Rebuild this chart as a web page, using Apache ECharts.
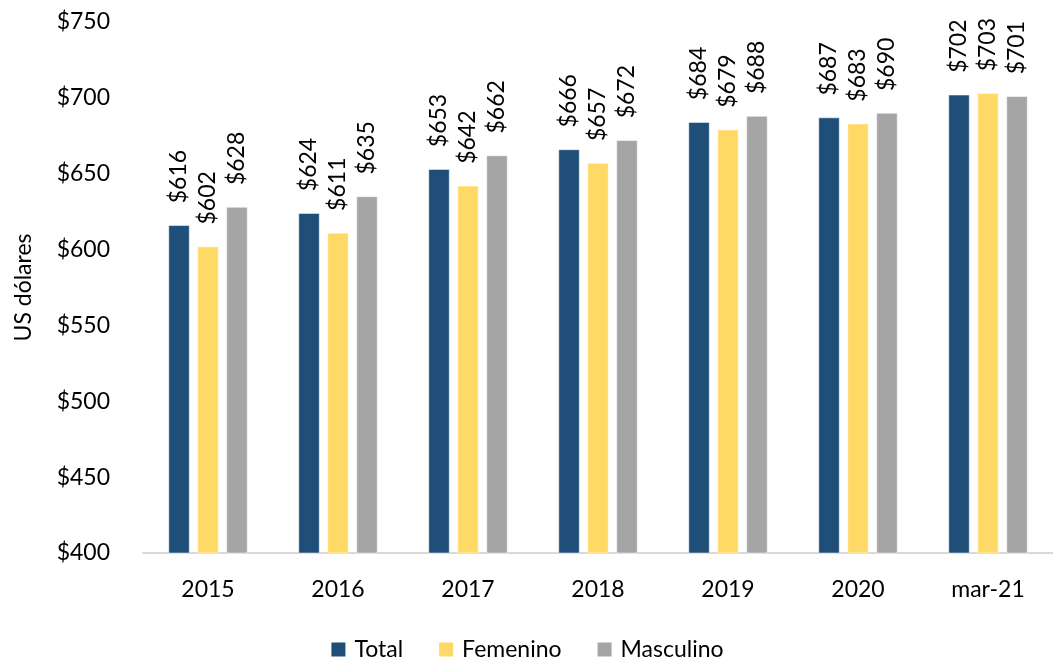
<!DOCTYPE html>
<html>
<head>
<meta charset="utf-8">
<script src="https://cdn.jsdelivr.net/npm/echarts@6/dist/echarts.min.js"></script>
<style>
  html, body { margin: 0; padding: 0; background: #fff; }
  #chart { width: 1053px; height: 659px; }
</style>
</head>
<body>
<div id="chart"></div>
<script>
// categorias y valores
var categories = ['2015', '2016', '2017', '2018', '2019', '2020', 'mar-21'];
var totalData = [616, 624, 653, 666, 684, 687, 702];
var femeninoData = [602, 611, 642, 657, 679, 683, 703];
var masculinoData = [628, 635, 662, 672, 688, 690, 701];
var seriesNames = ['Total', 'Femenino', 'Masculino'];

var fontName = 'Lato, "Open Sans", sans-serif';

function barSerie(name, data) {
    return {
        name: name,
        type: 'bar',
        barWidth: 21,
        barGap: '38%',
        data: data,
        itemStyle: { borderColor: '#fff', borderWidth: 0.5 },
        label: {
            show: true,
            position: 'top',
            rotate: 90,
            align: 'left',
            verticalAlign: 'middle',
            distance: 22,
            color: '#000',
            fontSize: 23,
            fontFamily: fontName,
            formatter: function (p) { return '$' + p.value; }
        }
    };
}

var option = {
    color: ['#1F4E79', '#FFD966', '#A5A5A5'],
    animation: false,
    textStyle: { fontFamily: fontName },
    grid: {
        left: 143,
        right: -8,
        top: 22,
        bottom: 106
    },
    legend: {
        data: seriesNames,
        top: 633,
        left: 'center',
        itemWidth: 16,
        itemHeight: 16,
        itemGap: 34,
        icon: 'rect',
        textStyle: { fontSize: 23, color: '#000', fontFamily: fontName, padding: [0, 0, 0, 3] }
    },
    xAxis: {
        type: 'category',
        data: categories,
        axisLine: { lineStyle: { color: '#D9D9D9', width: 2 } },
        axisTick: { show: false },
        axisLabel: { color: '#000', fontSize: 23, margin: 25, fontFamily: fontName }
    },
    yAxis: {
        type: 'value',
        min: 400,
        max: 750,
        interval: 50,
        name: 'US dólares',
        nameLocation: 'middle',
        nameGap: 108,
        nameTextStyle: { color: '#000', fontSize: 23, fontFamily: fontName },
        axisLine: { show: false },
        axisTick: { show: false },
        splitLine: { show: false },
        axisLabel: {
            color: '#000',
            fontSize: 23,
            margin: 33,
            fontFamily: fontName,
            formatter: function (v) { return '$' + v; }
        }
    },
    series: [
        barSerie(seriesNames[0], totalData),
        barSerie(seriesNames[1], femeninoData),
        barSerie(seriesNames[2], masculinoData)
    ]
};

var chart = echarts.init(document.getElementById('chart'));
chart.setOption(option, true);
</script>
</body>
</html>
